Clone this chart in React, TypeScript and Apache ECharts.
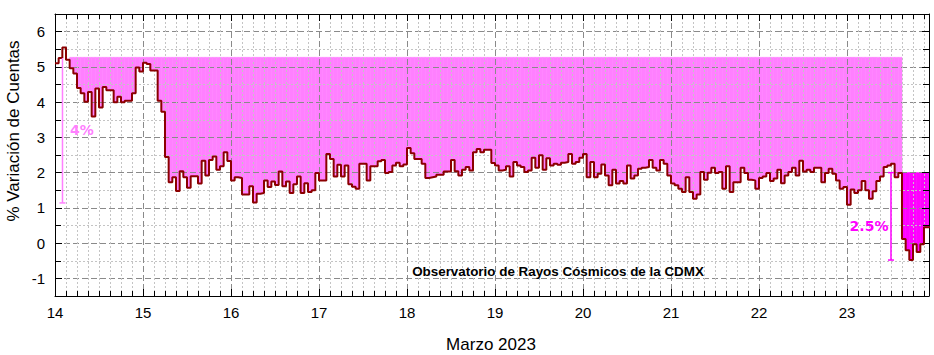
import React, { useEffect, useRef } from "react";
import * as echarts from "echarts";

// ---- data -------------------------------------------------------------
const startDay = 14; // 14 de marzo 2023, 00:00
const axisMaxDay = 23.932;
const hourStep = 1 / 24;

// hourly % variation of counts (h0 = 14 Mar 00:00)
const variation: number[] = [
  5.1, 5.25, 5.55, 5.2, 4.96, 4.81, 4.4, 4.25, 4.01, 4.29,
  3.59, 4.39, 3.85, 4.43, 4.34, 4.34, 4.0, 4.15, 4.0, 4.04,
  4.04, 4.25, 4.98, 4.87, 5.12, 5.08, 4.9, 4.9, 4.04, 3.73,
  2.44, 1.73, 1.87, 1.48, 2.04, 1.87, 1.57, 1.9, 1.9, 1.69,
  2.34, 1.92, 2.36, 2.46, 2.08, 2.18, 2.58, 2.33, 1.78, 1.87,
  1.85, 1.38, 1.38, 1.61, 1.15, 1.4, 1.42, 1.78, 1.59, 1.75,
  1.65, 2.03, 1.61, 1.75, 1.42, 1.67, 1.89, 1.42, 1.7, 1.45,
  1.5, 1.99, 1.78, 1.78, 2.53, 2.39, 1.89, 2.22, 1.89, 2.2,
  1.67, 1.6, 1.54, 2.25, 2.25, 1.78, 2.18, 2.18, 2.32, 2.36,
  1.99, 2.02, 2.2, 2.28, 2.18, 2.23, 2.7, 2.55, 2.39, 2.39,
  2.25, 1.85, 1.87, 1.89, 1.94, 1.94, 2.03, 2.03, 2.36, 2.04,
  1.92, 2.08, 2.16, 2.06, 2.58, 2.67, 2.58, 2.65,
  2.65, 2.27, 2.2, 2.06, 2.08, 2.18, 1.89, 2.3, 2.2, 2.16,
  2.02, 2.06, 2.42, 2.14, 2.49, 2.08, 2.41, 2.2, 2.25, 2.22,
  2.28, 2.3, 2.53, 2.25, 2.3, 2.42, 2.53, 1.87, 2.3, 1.87,
  1.97, 2.23, 1.92, 1.64, 2.08, 1.69, 1.76, 1.69, 2.2, 1.83,
  1.92, 2.11, 2.14, 2.16, 2.36, 2.14, 2.06, 2.36, 2.25, 1.92,
  1.69, 1.64, 1.54, 1.45, 1.87, 1.45, 1.26, 1.38,
  2.02, 1.8, 2.0, 2.14, 1.99, 2.02, 1.54, 2.18, 1.45, 1.73,
  1.73, 2.14, 1.99, 1.8, 1.78, 1.54, 1.85, 1.89, 1.99, 1.76,
  1.83, 2.08, 1.7, 1.92, 2.02, 2.14, 1.92, 2.34, 2.03, 2.08,
  2.02, 2.14, 2.14, 1.73, 1.99, 2.11, 1.97, 1.78, 1.54, 1.59,
  1.09, 1.52, 1.42, 1.5, 1.76, 1.5, 1.26, 1.47, 1.76, 1.89,
  2.16, 2.2, 2.25, 1.87, 1.99, 0.12, -0.2, -0.48, -0.03, -0.25,
  -0.03, 0.45, 0.45,
];

// shaded regions (hour index ranges and reference levels)
const pinkFillHours = [4, 230];
const pinkFillLevel = 5.27;
const dropFillHours = [231, 238];
const dropFillLevel = 2.0;

// annotation bars: [day, top, bottom, topCap]
const bar4: number[] = [14.085, 5.25, 1.14, 0];
const bar25: number[] = [23.5, 2.0, -0.48, 1];

const yTitle = "% Variación de Cuentas";
const xTitle = "Marzo 2023";
const observatory = "Observatorio de Rayos Cósmicos de la CDMX";

// ---- helpers ----------------------------------------------------------
const dayOf = (h: number) => startDay + h * hourStep;

const lineData: number[][] = variation.map((v, h) => [dayOf(h), v]);
lineData.push([dayOf(variation.length), variation[variation.length - 1]]);

const fillData = (range: number[], level: number) => {
  const out: number[][] = [];
  for (let h = range[0]; h <= range[1]; h++) out.push([dayOf(h), variation[h], level]);
  return out;
};

const rectRenderer = (color: string) => (params: any, api: any) => {
  const t = api.value(0) as number;
  const v = api.value(1) as number;
  const lvl = api.value(2) as number;
  const a = api.coord([t, lvl]);
  const b = api.coord([t + hourStep, v]);
  const cs = params.coordSys;
  const right = Math.min(b[0], cs.x + cs.width);
  return {
    type: "rect",
    shape: { x: a[0], y: Math.min(a[1], b[1]), width: right - a[0], height: Math.abs(b[1] - a[1]) },
    style: { fill: color, stroke: color, lineWidth: 0.6 },
  };
};

const barRenderer = (color: string) => (params: any, api: any) => {
  const t = api.value(0) as number;
  const p0 = api.coord([t, api.value(1)]);
  const p1 = api.coord([t, api.value(2)]);
  const st = { stroke: color, lineWidth: 1.5 };
  const children: any[] = [
    { type: "line", shape: { x1: p0[0], y1: p0[1], x2: p1[0], y2: p1[1] }, style: st },
    { type: "line", shape: { x1: p1[0] - 3, y1: p1[1], x2: p1[0] + 3, y2: p1[1] }, style: st },
  ];
  if (api.value(3) === 1) {
    children.push({ type: "line", shape: { x1: p0[0] - 3, y1: p0[1], x2: p0[0] + 3, y2: p0[1] }, style: st });
  }
  return { type: "group", children };
};

const FONT = '"Liberation Sans", Arial, sans-serif';

export default function App() {
  const ref = useRef<HTMLDivElement>(null);
  useEffect(() => {
    if (!ref.current) return;
    const chart = echarts.init(ref.current, null, { renderer: "svg" });

    const majorSplit = { show: true, lineStyle: { color: "#8a8a8a", width: 1, type: [6, 3] as any } };
    const minorSplit = { show: true, lineStyle: { color: "#c4c4c4", width: 1, type: [2, 2] as any } };
    const axisLine = { show: true, onZero: false, lineStyle: { color: "#000", width: 1 } };
    const tickIn = { show: true, inside: true, length: 7, lineStyle: { color: "#000" } };

    const xBase = { type: "value", min: startDay, max: axisMaxDay, splitNumber: 10, z: 3 };
    const yBase = { type: "value", min: -1.5, max: 6.5, splitNumber: 8, z: 3 };

    chart.setOption({
      animation: false,
      grid: { left: 55, right: 5, top: 14, bottom: 59, containLabel: false },
      xAxis: [
        {
          ...xBase,
          position: "bottom",
          axisLine,
          axisTick: tickIn,
          minorTick: { show: true, splitNumber: 8, length: 5, lineStyle: { color: "#000" } },
          splitLine: majorSplit,
          minorSplitLine: minorSplit,
          axisLabel: {
            show: true, margin: 9, color: "#000", fontSize: 15, fontFamily: FONT,
            showMinLabel: true, showMaxLabel: false,
            formatter: (v: number) => String(Math.round(v)),
          },
        },
        {
          ...xBase,
          position: "top",
          axisLine,
          axisTick: tickIn,
          minorTick: { show: true, splitNumber: 8, length: 5, lineStyle: { color: "#000" } },
          splitLine: { show: false },
          axisLabel: { show: false },
        },
      ],
      yAxis: [
        {
          ...yBase,
          position: "left",
          axisLine,
          axisTick: tickIn,
          minorTick: { show: true, splitNumber: 2, length: 6, lineStyle: { color: "#000" } },
          splitLine: majorSplit,
          minorSplitLine: minorSplit,
          axisLabel: {
            show: true, margin: 10, color: "#000", fontSize: 15, fontFamily: FONT,
            showMinLabel: false, showMaxLabel: false,
          },
        },
        {
          ...yBase,
          position: "right",
          axisLine,
          axisTick: tickIn,
          minorTick: { show: true, splitNumber: 2, length: 6, lineStyle: { color: "#000" } },
          splitLine: { show: false },
          axisLabel: { show: false },
        },
      ],
      series: [
        {
          type: "custom",
          name: "pinkFill",
          z: 1,
          silent: true,
          xAxisIndex: 0,
          yAxisIndex: 0,
          encode: { x: 0, y: 1 },
          data: fillData(pinkFillHours, pinkFillLevel),
          renderItem: rectRenderer("#ff80ff"),
        },
        {
          type: "custom",
          name: "dropFill",
          z: 1,
          silent: true,
          xAxisIndex: 0,
          yAxisIndex: 0,
          encode: { x: 0, y: 1 },
          data: fillData(dropFillHours, dropFillLevel),
          renderItem: rectRenderer("#ff00ff"),
        },
        {
          type: "line",
          name: "variacion",
          z: 5,
          step: "end",
          showSymbol: false,
          symbol: "none",
          xAxisIndex: 0,
          yAxisIndex: 0,
          data: lineData,
          lineStyle: { color: "#8b0000", width: 2 },
          itemStyle: { color: "#8b0000" },
        },
        {
          type: "custom",
          name: "bar4",
          z: 6,
          silent: true,
          encode: { x: 0, y: 1 },
          data: [bar4],
          renderItem: barRenderer("#ff80ff"),
        },
        {
          type: "custom",
          name: "bar25",
          z: 6,
          silent: true,
          encode: { x: 0, y: 1 },
          data: [bar25],
          renderItem: barRenderer("#ff00ff"),
        },
      ],
      graphic: [
        {
          type: "text", x: 13, y: 131, rotation: Math.PI / 2, z: 10,
          style: { text: yTitle, font: `17px ${FONT}`, fill: "#000", align: "center", verticalAlign: "middle" },
        },
        {
          type: "text", x: 491, y: 344, z: 10,
          style: { text: xTitle, font: `17px ${FONT}`, fill: "#000", align: "center", verticalAlign: "middle" },
        },
        {
          type: "text", x: 558, y: 271, z: 10,
          style: { text: observatory, font: `bold 13.4px ${FONT}`, fill: "#000", align: "center", verticalAlign: "middle" },
        },
        {
          type: "text", x: 82, y: 130, z: 10,
          style: { text: "4%", font: 'bold 14px "DejaVu Sans", sans-serif', fill: "#ff80ff", align: "center", verticalAlign: "middle" },
        },
        {
          type: "text", x: 869, y: 226, z: 10,
          style: { text: "2.5%", font: 'bold 14px "DejaVu Sans", sans-serif', fill: "#ff00ff", align: "center", verticalAlign: "middle" },
        },
      ],
    });
    return () => chart.dispose();
  }, []);
  return <div ref={ref} style={{ position: "absolute", left: 0, top: 0, width: 934, height: 355 }} />;
}
